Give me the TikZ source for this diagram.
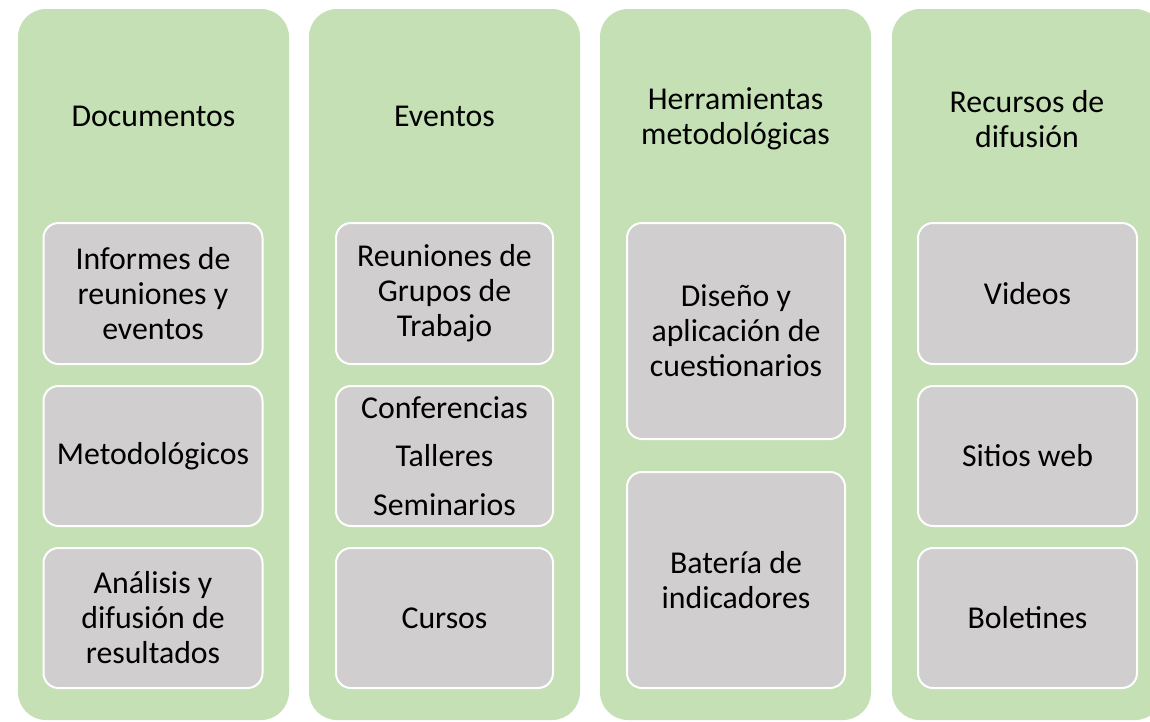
\documentclass[tikz,border=0pt]{standalone}
\usepackage{fontspec}
\setmainfont{Carlito}
\definecolor{colgreen}{HTML}{C5E0B4}
\definecolor{boxgrey}{HTML}{D0CECE}
\tikzset{
  colbox/.style={fill=colgreen, draw=none, rounded corners=28pt, minimum width=271pt, minimum height=711pt, inner sep=0pt},
  itembox/.style={fill=boxgrey, draw=white, line width=2pt, rounded corners=15pt, minimum width=219pt, inner sep=0pt},
  lbl/.style={align=center, font=\fontsize{31.8}{35}\selectfont, text=black, inner sep=0pt},
}
\begin{document}
\begin{tikzpicture}[x=1pt,y=-1pt]
\clip (0,0) rectangle (1150,721);
\fill[white] (0,0) rectangle (1150,721);
% columns
\node[colbox] (c1) at (153.5,364.5) {};
\node[colbox] (c2) at (444.5,364.5) {};
\node[colbox] (c3) at (735.5,364.5) {};
\node[colbox] (c4) at (1027.5,364.5) {};
% titles
\node[lbl] (t1) at (153.5,116) {Documentos};
\node[lbl] (t2) at (444.5,116) {Eventos};
\node[lbl] (t3) at (735.5,119) {Herramientas\\metodológicas};
\node[lbl] (t4) at (1027,119) {Recursos de\\difusión};
% column 1
\node[itembox, minimum height=141pt] (a1) at (153,293.5) {};
\node[lbl] at (a1.center) {Informes de\\reuniones y\\eventos};
\node[itembox, minimum height=140pt] (a2) at (153,456) {};
\node[lbl] at (a2.center) {Metodológicos};
\node[itembox, minimum height=140pt] (a3) at (153,618) {};
\node[lbl] at (a3.center) {Análisis y\\difusión de\\resultados};
% column 2
\node[itembox, minimum width=217pt, minimum height=141pt] (b1) at (444.5,293.5) {};
\node[lbl] at (b1.center) {Reuniones de\\Grupos de\\Trabajo};
\node[itembox, minimum width=217pt, minimum height=140pt] (b2) at (444.5,456) {};
\node[lbl, font=\fontsize{31.8}{48.5}\selectfont] at (b2.center) {Conferencias\\Talleres\\Seminarios};
\node[itembox, minimum width=217pt, minimum height=140pt] (b3) at (444.5,618) {};
\node[lbl] at (b3.center) {Cursos};
% column 3
\node[itembox, minimum width=218pt, minimum height=216pt] (d1) at (736,331) {};
\node[lbl] at (d1.center) {Diseño y\\aplicación de\\cuestionarios};
\node[itembox, minimum width=218pt, minimum height=216pt] (d2) at (736,580) {};
\node[lbl] at (d2.center) {Batería de\\indicadores};
% column 4
\node[itembox, minimum height=141pt] (e1) at (1027.5,293.5) {};
\node[lbl] at (e1.center) {Videos};
\node[itembox, minimum height=140pt] (e2) at (1027.5,456) {};
\node[lbl] at (e2.center) {Sitios web};
\node[itembox, minimum height=140pt] (e3) at (1027.5,618) {};
\node[lbl] at (e3.center) {Boletines};
\end{tikzpicture}
\end{document}
